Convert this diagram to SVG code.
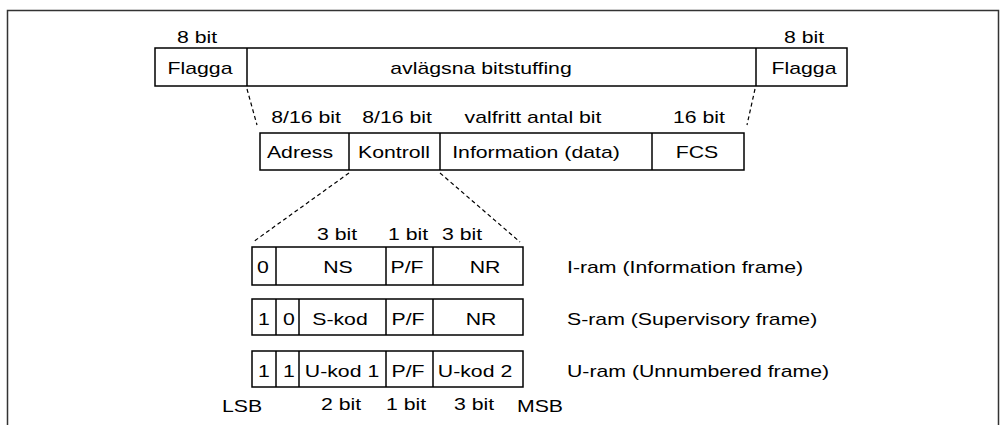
<svg xmlns="http://www.w3.org/2000/svg" width="1005" height="425" viewBox="0 0 1005 425">
<style>
text{font-family:"Liberation Sans",Arial,Helvetica,sans-serif;font-size:17px;fill:#000}
.m{text-anchor:middle}
.box{fill:#fff;stroke:#000;stroke-width:1.5}
.div{stroke:#000;stroke-width:1.5}
.dash{stroke:#000;stroke-width:1.2;stroke-dasharray:4 3;fill:none}
</style>
<rect width="1005" height="425" fill="#fff"/>
<path id="frame" d="M7.5,430 V10.5 H998.5 V430" fill="none" stroke="#333" stroke-width="1.5"/>
<g id="connectors">
<line class="dash" x1="247" y1="89" x2="257" y2="125"/>
<line class="dash" x1="755" y1="89" x2="747" y2="125"/>
<line class="dash" x1="349" y1="173" x2="253" y2="242"/>
<line class="dash" x1="440" y1="173" x2="520" y2="242"/>
</g>
<g id="frame-row">
<rect class="box" x="155" y="48" width="692" height="38"/>
<line class="div" x1="247" y1="48" x2="247" y2="86"/>
<line class="div" x1="756" y1="48" x2="756" y2="86"/>
<text class="m" transform="translate(197,43) scale(1.25,1)">8 bit</text>
<text class="m" transform="translate(804,43) scale(1.25,1)">8 bit</text>
<text class="m" transform="translate(200,74) scale(1.25,1)">Flagga</text>
<text class="m" transform="translate(481,74) scale(1.25,1)">avlägsna bitstuffing</text>
<text class="m" transform="translate(804,74) scale(1.25,1)">Flagga</text>
</g>
<g id="content-row">
<rect class="box" x="260" y="133" width="484" height="37"/>
<line class="div" x1="349" y1="133" x2="349" y2="170"/>
<line class="div" x1="440" y1="133" x2="440" y2="170"/>
<line class="div" x1="652" y1="133" x2="652" y2="170"/>
<text class="m" transform="translate(306,123) scale(1.25,1)">8/16 bit</text>
<text class="m" transform="translate(397,123) scale(1.25,1)">8/16 bit</text>
<text class="m" transform="translate(533,123) scale(1.25,1)">valfritt antal bit</text>
<text class="m" transform="translate(699,123) scale(1.25,1)">16 bit</text>
<text class="m" transform="translate(300,158) scale(1.25,1)">Adress</text>
<text class="m" transform="translate(394,158) scale(1.25,1)">Kontroll</text>
<text class="m" transform="translate(536,158) scale(1.25,1)">Information (data)</text>
<text class="m" transform="translate(697,158) scale(1.25,1)">FCS</text>
</g>
<g id="i-frame">
<rect class="box" x="252" y="247" width="271" height="38"/>
<line class="div" x1="276" y1="247" x2="276" y2="285"/>
<line class="div" x1="386" y1="247" x2="386" y2="285"/>
<line class="div" x1="433" y1="247" x2="433" y2="285"/>
<text class="m" transform="translate(337,240) scale(1.25,1)">3 bit</text>
<text class="m" transform="translate(408,240) scale(1.25,1)">1 bit</text>
<text class="m" transform="translate(462,240) scale(1.25,1)">3 bit</text>
<text class="m" transform="translate(263,273) scale(1.25,1)">0</text>
<text class="m" transform="translate(338,273) scale(1.25,1)">NS</text>
<text class="m" transform="translate(407,273) scale(1.25,1)">P/F</text>
<text class="m" transform="translate(485,273) scale(1.25,1)">NR</text>
<text transform="translate(567,273) scale(1.25,1)">I-ram (Information frame)</text>
</g>
<g id="s-frame">
<rect class="box" x="252" y="299" width="271" height="36"/>
<line class="div" x1="276" y1="299" x2="276" y2="335"/>
<line class="div" x1="299" y1="299" x2="299" y2="335"/>
<line class="div" x1="386" y1="299" x2="386" y2="335"/>
<line class="div" x1="433" y1="299" x2="433" y2="335"/>
<text class="m" transform="translate(264,325) scale(1.25,1)">1</text>
<text class="m" transform="translate(289,325) scale(1.25,1)">0</text>
<text class="m" transform="translate(340,325) scale(1.25,1)">S-kod</text>
<text class="m" transform="translate(408,325) scale(1.25,1)">P/F</text>
<text class="m" transform="translate(481,325) scale(1.25,1)">NR</text>
<text transform="translate(567,325) scale(1.25,1)">S-ram (Supervisory frame)</text>
</g>
<g id="u-frame">
<rect class="box" x="252" y="351" width="271" height="36"/>
<line class="div" x1="276" y1="351" x2="276" y2="387"/>
<line class="div" x1="299" y1="351" x2="299" y2="387"/>
<line class="div" x1="386" y1="351" x2="386" y2="387"/>
<line class="div" x1="433" y1="351" x2="433" y2="387"/>
<text class="m" transform="translate(264,377) scale(1.25,1)">1</text>
<text class="m" transform="translate(289,377) scale(1.25,1)">1</text>
<text class="m" transform="translate(342,377) scale(1.25,1)">U-kod 1</text>
<text class="m" transform="translate(408,377) scale(1.25,1)">P/F</text>
<text class="m" transform="translate(475,377) scale(1.25,1)">U-kod 2</text>
<text transform="translate(567,377) scale(1.25,1)">U-ram (Unnumbered frame)</text>
</g>
<g id="bottom-labels">
<text class="m" transform="translate(242,412) scale(1.25,1)">LSB</text>
<text class="m" transform="translate(341,410) scale(1.25,1)">2 bit</text>
<text class="m" transform="translate(406,410) scale(1.25,1)">1 bit</text>
<text class="m" transform="translate(474,410) scale(1.25,1)">3 bit</text>
<text class="m" transform="translate(540,412) scale(1.25,1)">MSB</text>
</g>
</svg>
